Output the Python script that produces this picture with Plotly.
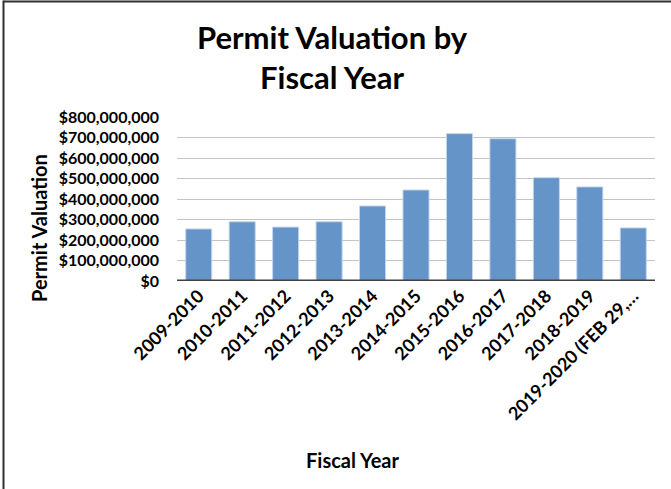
import plotly.graph_objects as go

categories = ["2009-2010", "2010-2011", "2011-2012", "2012-2013", "2013-2014",
              "2014-2015", "2015-2016", "2016-2017", "2017-2018", "2018-2019",
              "2019-2020 (FEB 29,…"]
values = [254e6, 289e6, 263e6, 289e6, 366e6, 444e6, 719e6, 694e6, 504e6, 459e6, 259e6]
y_ticks = [0, 100e6, 200e6, 300e6, 400e6, 500e6, 600e6, 700e6, 800e6]
y_tick_labels = ["$0", "$100,000,000", "$200,000,000", "$300,000,000", "$400,000,000",
                 "$500,000,000", "$600,000,000", "$700,000,000", "$800,000,000"]

W, H = 671, 489
L, R, T, B = 177, 16, 117, 208
pw, ph = W - L - R, H - T - B

FONT = "Lato, 'Open Sans', sans-serif"

fig = go.Figure(go.Bar(
    x=categories, y=values,
    marker=dict(color="#6594C9", line=dict(color="#C5D6EC", width=1)),
))

def px_x(x):
    return (x - L) / pw

def px_y(y):
    return (H - B - y) / ph

fig.update_layout(
    width=W, height=H,
    margin=dict(l=L, r=R, t=T, b=B, autoexpand=False),
    paper_bgcolor="white", plot_bgcolor="white",
    bargap=0.4,
    showlegend=False,
    font=dict(family=FONT, color="black"),
    xaxis=dict(
        tickangle=-45, automargin=False,
        tickfont=dict(size=18, family=FONT, color="black", weight="bold"),
        showgrid=False, showline=False, ticks="",
    ),
    yaxis=dict(
        range=[0, 800e6], automargin=False,
        tickvals=y_ticks, ticktext=y_tick_labels,
        tickfont=dict(size=16, family=FONT, color="black", weight="bold"),
        showgrid=True, gridcolor="#C4C4C4", gridwidth=1,
        zeroline=False, showline=False, ticks="",
        ticklabelstandoff=17,
    ),
    annotations=[
        dict(text="<b>Permit Valuation by<br>Fiscal Year</b>", showarrow=False,
             xref="paper", yref="paper", x=px_x(332), y=px_y(57),
             xanchor="center", yanchor="middle",
             font=dict(size=31, family=FONT, color="black")),
        dict(text="<b>Permit Valuation</b>", textangle=-90, showarrow=False,
             xref="paper", yref="paper", x=px_x(39), y=px_y(228),
             xanchor="center", yanchor="middle",
             font=dict(size=20, family=FONT, color="black")),
        dict(text="<b>Fiscal Year</b>", showarrow=False,
             xref="paper", yref="paper", x=px_x(353), y=px_y(460),
             xanchor="center", yanchor="middle",
             font=dict(size=20, family=FONT, color="black")),
    ],
    shapes=[
        # baseline
        dict(type="line", xref="paper", yref="y", x0=0, x1=1, y0=0, y1=0,
             line=dict(color="#404040", width=3)),
        # frame: top and left edges
        dict(type="line", xref="paper", yref="paper",
             x0=px_x(3.5), x1=px_x(W + 2), y0=px_y(1.5), y1=px_y(1.5),
             line=dict(color="#303030", width=2)),
        dict(type="line", xref="paper", yref="paper",
             x0=px_x(3.5), x1=px_x(3.5), y0=px_y(0.5), y1=px_y(H + 2),
             line=dict(color="#303030", width=2)),
    ],
)

fig.write_html("out.html", config={"displayModeBar": False},
               post_script="document.body.style.margin='0';document.body.style.padding='0';")
